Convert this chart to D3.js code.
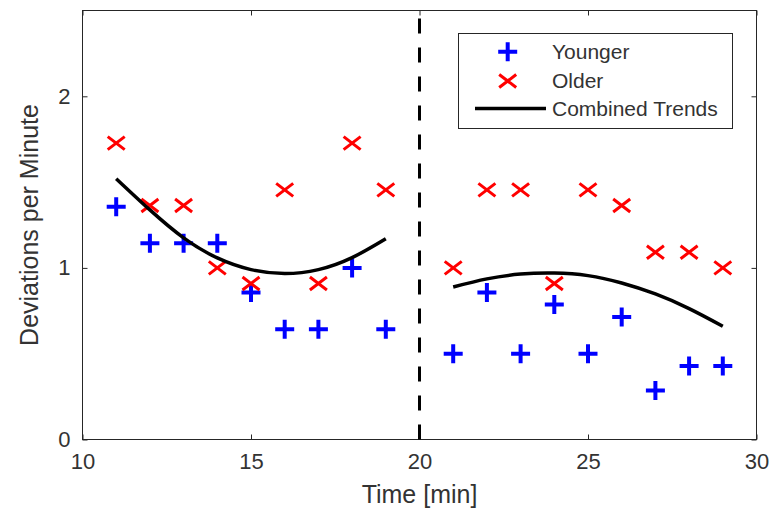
<!DOCTYPE html>
<html>
<head>
<meta charset="utf-8">
<script src="https://cdn.jsdelivr.net/npm/d3@7"></script>
<style>
  html, body { margin: 0; padding: 0; background: #ffffff; }
  svg { display: block; }
  text { font-family: "Liberation Sans", Arial, Helvetica, sans-serif; }
</style>
</head>
<body>
<svg id="chart" width="781" height="512"></svg>
<script>
// ---- data ----
const minutes = [11, 12, 13, 14, 15, 16, 17, 18, 19, 21, 22, 23, 24, 25, 26, 27, 28, 29];
const younger = [1.357, 1.143, 1.143, 1.143, 0.857, 0.643, 0.643, 1.000, 0.643,
                 0.500, 0.857, 0.500, 0.786, 0.500, 0.714, 0.286, 0.429, 0.429];
const older   = [1.727, 1.364, 1.364, 1.000, 0.909, 1.455, 0.909, 1.727, 1.455,
                 1.000, 1.455, 1.455, 0.909, 1.455, 1.364, 1.091, 1.091, 1.000];
const trendEarlyX = [11, 12, 13, 14, 15, 16, 17, 18, 19];
const trendEarlyY = [1.52, 1.338, 1.175, 1.058, 0.99, 0.967, 0.99, 1.06, 1.170];
const trendLateX  = [21, 22, 23, 24, 25, 26, 27, 28, 29];
const trendLateY  = [0.889, 0.936, 0.964, 0.970, 0.955, 0.912, 0.848, 0.763, 0.660];
const splitMinute = 20;
const xTicks = [10, 15, 20, 25, 30];
const yTicks = [0, 1, 2];
const xDomain = [10, 30];
const yDomain = [0, 2.5];
const legendLabels = ["Younger", "Older", "Combined Trends"];
const xLabel = "Time [min]";
const yLabel = "Deviations per Minute";

// ---- layout ----
const L = 82.5, R = 756.5, T = 10.5, B = 439.5;
const axisColor = "#262626";
const textColor = "#333333";
const svg = d3.select("#chart");
const x = d3.scaleLinear().domain(xDomain).range([L, R]);
const y = d3.scaleLinear().domain(yDomain).range([B, T]);

// axes box and ticks (inside, all four sides)
const tickLen = 5;
const gx = svg.append("g").attr("transform", `translate(0,${B})`)
  .call(d3.axisBottom(x).tickValues(xTicks).tickSizeInner(-tickLen).tickSizeOuter(0).tickPadding(14).tickFormat(d3.format("d")));
const gy = svg.append("g").attr("transform", `translate(${L},0)`)
  .call(d3.axisLeft(y).tickValues(yTicks).tickSizeInner(-tickLen).tickSizeOuter(0).tickPadding(12).tickFormat(d3.format("d")));
const gxt = svg.append("g").attr("transform", `translate(0,${T})`)
  .call(d3.axisTop(x).tickValues(xTicks).tickSizeInner(-tickLen).tickSizeOuter(0).tickFormat(""));
const gyr = svg.append("g").attr("transform", `translate(${R},0)`)
  .call(d3.axisRight(y).tickValues(yTicks).tickSizeInner(-tickLen).tickSizeOuter(0).tickFormat(""));
[gx, gy, gxt, gyr].forEach(g => {
  g.select(".domain").remove();
  g.selectAll("line").attr("stroke", axisColor).attr("stroke-width", 1);
  g.selectAll("text").attr("fill", textColor).style("font-size", "22px");
});
gx.selectAll("text").attr("dy", "0.71em");
svg.append("rect").attr("x", L).attr("y", T).attr("width", R - L).attr("height", B - T)
  .attr("fill", "none").attr("stroke", axisColor).attr("stroke-width", 1);

// axis labels
svg.append("text").attr("x", (L + R) / 2).attr("y", 503).attr("text-anchor", "middle")
  .attr("fill", textColor).style("font-size", "25px").text(xLabel);
svg.append("text").attr("transform", `translate(38,${(T + B) / 2}) rotate(-90)`)
  .attr("text-anchor", "middle").attr("fill", textColor).style("font-size", "25px").text(yLabel);

// markers
const plusPath = s => `M${-s},0H${s}M0,${-s}V${s}`;
const crossPath = (w, h) => `M${-w},${-h}L${w},${h}M${-w},${h}L${w},${-h}`;

svg.append("g").selectAll("path").data(minutes.map((m, i) => [m, younger[i]])).join("path")
  .attr("transform", d => `translate(${x(d[0])},${y(d[1])})`)
  .attr("d", plusPath(9.5)).attr("stroke", "#0000ff").attr("stroke-width", 4).attr("fill", "none");
svg.append("g").selectAll("path").data(minutes.map((m, i) => [m, older[i]])).join("path")
  .attr("transform", d => `translate(${x(d[0])},${y(d[1])})`)
  .attr("d", crossPath(8.5, 6.5)).attr("stroke", "#ff0000").attr("stroke-width", 3).attr("fill", "none");

// trend lines
const line = d3.line().x(d => x(d[0])).y(d => y(d[1])).curve(d3.curveNatural);
[[trendEarlyX, trendEarlyY], [trendLateX, trendLateY]].forEach(([xs, ys]) => {
  svg.append("path").datum(xs.map((v, i) => [v, ys[i]])).attr("d", line)
    .attr("fill", "none").attr("stroke", "#000").attr("stroke-width", 3.5);
});

// dashed split line
svg.append("line").attr("x1", x(splitMinute)).attr("x2", x(splitMinute))
  .attr("y1", T).attr("y2", B).attr("stroke", "#000").attr("stroke-width", 3)
  .attr("stroke-dasharray", "15,14").attr("stroke-dashoffset", 21);

// legend
const lg = svg.append("g");
lg.append("rect").attr("x", 458.5).attr("y", 33.5).attr("width", 274).attr("height", 95)
  .attr("fill", "#fff").attr("stroke", axisColor).attr("stroke-width", 1);
const rows = [51.7, 81, 108.5];
lg.append("path").attr("transform", `translate(507.7,${rows[0]})`).attr("d", plusPath(9.5))
  .attr("stroke", "#0000ff").attr("stroke-width", 4).attr("fill", "none");
lg.append("path").attr("transform", `translate(507.7,${rows[1]})`).attr("d", crossPath(8.5, 6.5))
  .attr("stroke", "#ff0000").attr("stroke-width", 3).attr("fill", "none");
lg.append("line").attr("x1", 475).attr("x2", 546).attr("y1", rows[2]).attr("y2", rows[2])
  .attr("stroke", "#000").attr("stroke-width", 3.5);
legendLabels.forEach((t, i) => {
  lg.append("text").attr("x", 552).attr("y", rows[i]).attr("dy", "0.35em")
    .attr("fill", textColor).style("font-size", "21px").text(t);
});
</script>
</body>
</html>
